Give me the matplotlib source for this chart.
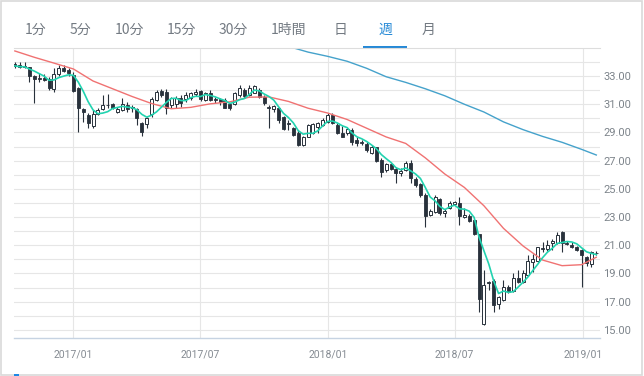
import matplotlib
matplotlib.use("Agg")
import matplotlib.pyplot as plt
import matplotlib.dates as mdates
from matplotlib.patches import Rectangle
from matplotlib.lines import Line2D
import numpy as np
import pandas as pd

plt.rcParams['font.family'] = ['Roboto', 'DejaVu Sans']

# weekly candles, one per week
start_week = "2016-10-09"
opens = [33.85, 33.78, 33.68, 33.61, 33.00, 32.85, 32.83, 32.79, 32.05, 33.12,
         33.59, 33.43, 33.07, 32.13, 30.64, 30.23, 29.48, 30.28, 30.66, 30.96,
         30.99, 30.47, 30.59, 30.94, 30.83, 30.64, 29.64, 29.60, 30.28, 31.30,
         31.94, 31.84, 30.94, 30.99, 31.42, 31.37, 31.46, 31.70, 31.94, 31.30,
         31.77, 31.37, 31.37, 31.30, 30.99, 30.99, 31.65, 32.01, 31.65, 31.82,
         32.00, 31.53, 30.83, 30.64, 30.71, 30.07, 29.69, 29.34, 28.98, 28.11,
         28.70, 28.98, 29.41, 29.52, 29.76, 30.23, 29.52, 28.93, 28.93, 29.17,
         28.46, 28.34, 28.18, 27.56, 27.94, 27.04, 26.33, 26.76, 26.38, 26.10,
         26.33, 26.80, 25.67, 25.34, 24.56, 23.15, 23.38, 24.25, 23.26, 23.62,
         23.92, 24.02, 22.98, 23.08, 22.79, 21.79, 15.40, 18.30, 18.48, 16.85,
         17.13, 18.06, 17.78, 18.65, 18.41, 18.88, 19.83, 19.91, 20.80, 20.71,
         21.17, 21.17, 21.96, 21.14, 21.01, 20.85, 20.66, 20.19, 19.67, 20.44]
highs = [33.98, 34.02, 34.02, 33.62, 33.05, 33.19, 33.14, 32.95, 33.60, 33.78,
         33.78, 33.54, 33.31, 32.20, 30.75, 30.35, 30.59, 30.71, 31.65, 31.70,
         31.06, 30.83, 31.46, 31.18, 30.94, 30.71, 29.76, 30.12, 31.53, 32.01,
         32.08, 32.08, 31.53, 31.61, 31.65, 31.84, 31.89, 32.08, 32.01, 31.89,
         32.01, 31.53, 31.46, 31.42, 31.06, 31.89, 32.36, 32.13, 32.36, 32.36,
         32.13, 31.65, 30.94, 30.94, 30.83, 30.16, 29.88, 29.41, 29.17, 28.74,
         29.60, 29.69, 29.76, 30.00, 30.35, 30.35, 29.64, 29.45, 29.36, 29.29,
         28.65, 28.46, 28.34, 28.11, 27.99, 27.16, 26.85, 26.85, 26.52, 26.45,
         27.00, 27.04, 25.82, 25.44, 24.68, 23.55, 24.56, 24.32, 23.55, 24.16,
         24.16, 24.39, 23.62, 23.22, 22.84, 21.83, 19.24, 18.45, 18.58, 17.41,
         18.53, 18.18, 19.05, 19.24, 19.24, 20.30, 20.38, 20.89, 21.24, 21.37,
         21.41, 21.96, 22.03, 21.31, 21.24, 20.94, 20.71, 20.23, 20.61, 20.61]
lows = [33.55, 33.54, 33.59, 32.60, 31.11, 32.55, 32.65, 32.00, 31.89, 33.02,
        33.26, 33.02, 31.89, 29.05, 29.76, 29.29, 29.29, 30.23, 30.59, 30.71,
        30.66, 30.35, 30.54, 30.47, 30.47, 29.52, 28.77, 29.29, 30.12, 31.23,
        31.53, 30.30, 30.71, 30.71, 30.82, 31.18, 31.30, 31.61, 31.23, 31.23,
        31.23, 31.06, 30.94, 30.71, 30.59, 30.94, 31.53, 31.46, 31.61, 31.77,
        31.42, 30.94, 29.34, 30.47, 29.69, 29.17, 29.17, 28.74, 28.04, 28.04,
        28.65, 28.88, 28.93, 29.45, 29.64, 29.60, 28.88, 28.65, 28.82, 28.11,
        28.04, 28.11, 27.63, 27.47, 26.92, 25.86, 26.21, 26.33, 25.44, 25.91,
        26.28, 25.44, 25.15, 24.44, 22.27, 23.08, 23.31, 23.15, 22.98, 23.55,
        23.85, 22.43, 22.91, 22.67, 21.72, 16.28, 15.34, 17.83, 16.28, 16.45,
        17.01, 17.60, 17.71, 18.34, 18.30, 18.81, 19.12, 19.83, 20.54, 20.61,
        20.66, 21.12, 20.54, 21.01, 20.78, 20.61, 18.01, 19.53, 19.43, 20.30]
closes = [33.72, 33.61, 33.64, 33.02, 32.76, 32.82, 32.72, 32.17, 33.15, 33.59,
          33.35, 33.19, 31.96, 30.71, 30.42, 29.64, 30.28, 30.59, 30.94, 30.92,
          30.75, 30.66, 30.99, 30.66, 30.71, 30.00, 29.05, 30.00, 31.37, 31.89,
          31.65, 30.71, 31.42, 31.46, 31.06, 31.65, 31.77, 31.89, 31.37, 31.77,
          31.30, 31.30, 31.18, 30.75, 30.75, 31.77, 32.17, 31.61, 32.17, 32.29,
          31.53, 31.06, 30.71, 30.87, 29.88, 29.22, 29.60, 28.82, 28.11, 28.65,
          29.52, 29.60, 29.69, 29.88, 30.23, 29.64, 28.93, 28.70, 29.22, 28.34,
          28.27, 28.22, 27.75, 27.99, 27.00, 26.21, 26.76, 26.38, 26.14, 26.28,
          26.85, 25.74, 25.27, 24.56, 23.08, 23.45, 24.39, 23.26, 23.45, 24.02,
          24.09, 23.08, 23.15, 22.74, 21.79, 17.19, 18.18, 18.41, 16.78, 17.32,
          18.06, 17.71, 18.65, 18.41, 19.05, 19.91, 20.00, 20.85, 20.76, 21.01,
          21.31, 21.72, 21.17, 21.10, 20.85, 20.66, 20.30, 19.76, 20.54, 20.42]

# longer averages (week index, value)
red_idx = [0, 4, 8, 12, 16, 20, 24, 28, 32, 36, 40, 44, 48, 52, 56, 60,
           64, 68, 72, 76, 80, 84, 88, 92, 96, 100, 104, 108, 112, 116, 119]
red_ma = [34.78, 34.33, 33.92, 33.50, 32.65, 32.10, 31.55, 31.05, 30.68, 30.78,
          31.03, 31.17, 31.50, 31.52, 31.20, 30.72, 30.38, 29.92, 29.30, 28.68,
          28.22, 27.20, 26.05, 25.10, 23.80, 22.20, 20.95, 19.95, 19.55, 19.62,
          20.15]
blue_idx = [56, 60, 64, 68, 72, 76, 80, 84, 88, 92, 96, 100, 104, 108, 112, 116, 119]
blue_ma = [35.10, 34.70, 34.40, 34.05, 33.55, 32.95, 32.55, 32.10, 31.60, 31.00,
           30.45, 29.75, 29.20, 28.72, 28.30, 27.80, 27.40]

tabs = ["1分", "5分", "10分", "15分", "30分", "1時間", "日", "週", "月"]
tab_x = [36, 80, 129, 181, 233, 289, 341, 385, 429]
active_tab = "週"

tick_dates = ["2017-01-01", "2017-07-01", "2018-01-01", "2018-07-01", "2019-01-01"]
tick_labels = ["2017/01", "2017/07", "2018/01", "2018/07", "2019/01"]

W, H = 644, 376
dark = "#28313b"

dates = pd.date_range(start_week, periods=len(closes), freq="7D")
xs = mdates.date2num(dates.to_pydatetime())
o = np.array(opens); c = np.array(closes)
teal_ma = pd.Series(closes).rolling(5, min_periods=1).mean().values

fig = plt.figure(figsize=(W / 100, H / 100), dpi=100)
ax = fig.add_axes([14 / W, (H - 338) / H, (600 - 14) / W, (338 - 48) / H])

# grid
for v in range(15, 35):
    ax.axhline(v, color="#e6e6e6", lw=0.8, zorder=0)
xt = mdates.date2num(pd.to_datetime(tick_dates).to_pydatetime())
for v in xt:
    ax.axvline(v, color="#e6e6e6", lw=0.8, zorder=0)

# candles
ax.vlines(xs, lows, highs, color=dark, lw=0.8, zorder=2)
up = c > o
ax.bar(xs[~up], np.abs(c - o)[~up], bottom=np.minimum(o, c)[~up], width=4.3,
       color=dark, edgecolor=dark, lw=0.6, zorder=3)
ax.bar(xs[up], np.abs(c - o)[up], bottom=np.minimum(o, c)[up], width=4.3,
       color="white", edgecolor=dark, lw=0.7, zorder=3)

ax.plot(xs[red_idx], red_ma, color="#f07272", lw=1.0, zorder=4)
ax.plot(xs[blue_idx], blue_ma, color="#45a2cb", lw=1.0, zorder=4)
ax.plot(xs, teal_ma, color="#22d3b0", lw=1.2, zorder=4)

d0 = mdates.date2num(pd.Timestamp("2017-01-01").to_pydatetime())
ax.set_xlim(d0 - 85.2, d0 + 754.3)
ax.set_ylim(14.42, 34.99)

ax.set_xticks(xt)
ax.set_xticklabels(tick_labels)
ax.set_yticks(range(15, 35, 2))
ax.set_yticklabels(["%.2f" % v for v in range(15, 35, 2)])
ax.yaxis.tick_right()
ax.tick_params(axis="y", length=0, pad=2.5, labelsize=8, labelcolor="#7d848b")
ax.tick_params(axis="x", length=0, pad=8, labelsize=7.5, labelcolor="#858b92")
for s in ["top", "left", "right"]:
    ax.spines[s].set_visible(False)
ax.spines["bottom"].set_color("#c6d3e2")
ax.spines["bottom"].set_linewidth(1.0)

# tab bar
for t, x in zip(tabs, tab_x):
    fig.text(x / W, 1 - 30 / H, t, ha="center", va="center", fontsize=10,
             color="#2589d6" if t == active_tab else "#737a82",
             family=["Noto Sans CJK JP", "DejaVu Sans"])
fig.add_artist(Line2D([14 / W, 600 / W], [1 - 47.5 / H] * 2, color="#dddddd",
                      lw=0.8, transform=fig.transFigure))
i = tabs.index(active_tab)
fig.add_artist(Rectangle(((tab_x[i] - 22) / W, 1 - 48.5 / H), 44 / W, 2.2 / H,
                         color="#2589d6", transform=fig.transFigure, lw=0))

# outer frame and cut-off legend mark
fig.add_artist(Rectangle((1 / W, 1.5 / H), 641 / W, 373.5 / H, fill=False,
                         edgecolor="#d9d9d9", lw=1.2, transform=fig.transFigure))
fig.add_artist(Rectangle((14 / W, 0), 5 / W, 2.5 / H, color="#1e88e5", lw=0,
                         transform=fig.transFigure))

fig.savefig("out.png", dpi=100)
